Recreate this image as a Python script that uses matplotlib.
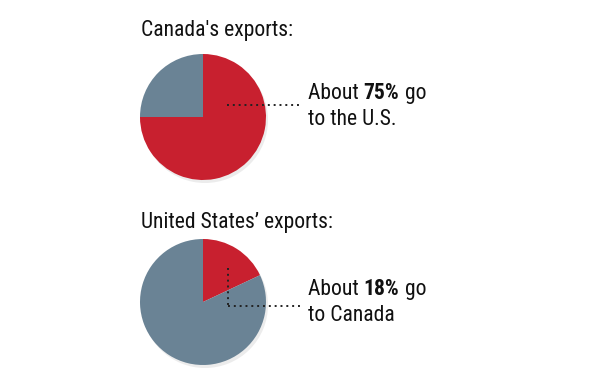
import matplotlib
matplotlib.use("Agg")
import matplotlib.pyplot as plt
from matplotlib import font_manager

W, H = 599, 391

# data
titles = ["Canada's exports:", "United States\u2019 exports:"]
shares = [75, 18]                 # percent going to the other country
destinations = ["the U.S.", "Canada"]
RED = "#c8202f"
GRAY = "#6a8395"

names = set(f.name for f in font_manager.fontManager.ttflist)
FAM = "DejaVu Sans"
for cand in ["Roboto Condensed", "Archivo Narrow", "Barlow Semi Condensed",
             "Liberation Sans Narrow"]:
    if cand in names:
        FAM = cand
        break

fig = plt.figure(figsize=(W / 100, H / 100), dpi=100)
ax = fig.add_axes([0, 0, 1, 1])

cx = 203
centers_y = [117, 302]   # pixel rows, from top
radius = 63

for i in range(2):
    cy = H - centers_y[i]
    p = shares[i]
    # faint drop shadow
    ax.pie([100], radius=radius, center=(cx + 2, cy - 3), colors=["#ececec"],
           wedgeprops=dict(linewidth=0))
    ax.pie([p, 100 - p], radius=radius, center=(cx, cy), colors=[RED, GRAY],
           startangle=90, counterclock=False, wedgeprops=dict(linewidth=0))

ax.set_xlim(0, W)
ax.set_ylim(0, H)
ax.set_aspect("equal")
ax.axis("off")

# leader lines (dotted)
dot = dict(color="#222222", linestyle=(0, (1, 2)), linewidth=1.4)
ax.plot([227, 300], [H - 105, H - 105], **dot)
ax.plot([228, 228], [H - 268, H - 306], **dot)
ax.plot([228, 300], [H - 306, H - 306], **dot)

fs = 14.5
title_y = [36, 228]
line1_y = [99, 295]
line2_y = [125, 321]

fig.canvas.draw()
r = fig.canvas.get_renderer()

# scale font so the second title is ~192 px wide, like the reference
probe = ax.text(0, 0, titles[1], fontsize=fs, family=FAM, fontstretch="condensed")
wpx = probe.get_window_extent(renderer=r).width
probe.remove()
fs = fs * 192.0 / wpx if wpx > 0 else fs

kw = dict(fontsize=fs, family=FAM, fontstretch="condensed", color="#111111",
          va="baseline", ha="left")

for i in range(2):
    ax.text(141, H - title_y[i], titles[i], **kw)
    x = 308
    parts = [("About ", "normal"), ("%d%%" % shares[i], "bold"), (" go", "normal")]
    for s, wgt in parts:
        t = ax.text(x, H - line1_y[i], s, weight=wgt, **kw)
        bb = t.get_window_extent(renderer=r)
        x += bb.width
    ax.text(308, H - line2_y[i], "to " + destinations[i], **kw)

fig.savefig("out.png", dpi=100, facecolor="white")
